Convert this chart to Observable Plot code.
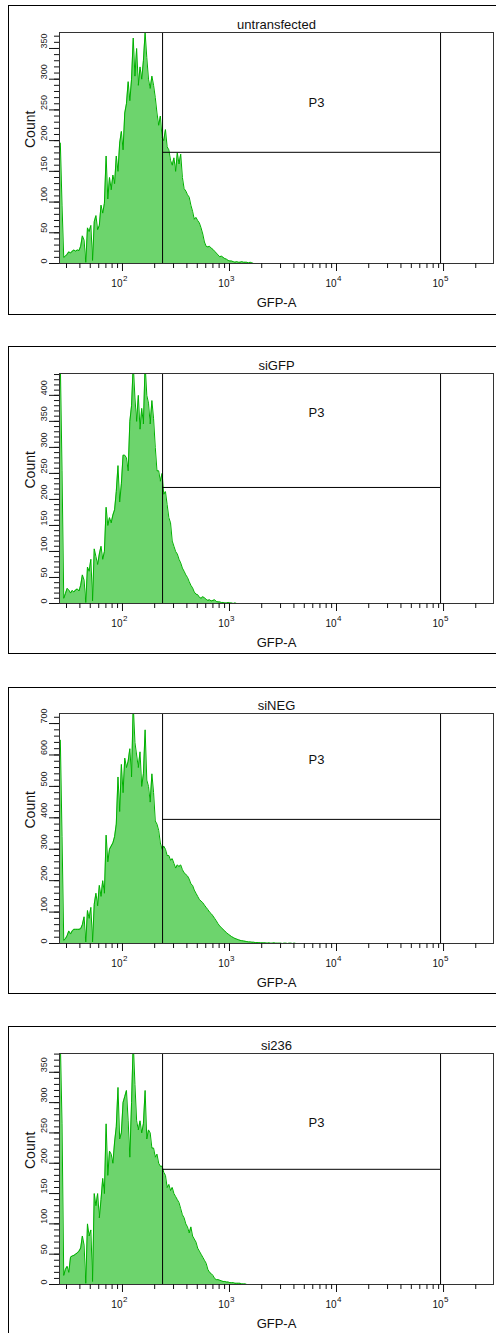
<!DOCTYPE html>
<html>
<head>
<meta charset="utf-8">
<script src="https://cdn.jsdelivr.net/npm/d3@7"></script>
<script src="https://cdn.jsdelivr.net/npm/@observablehq/plot@0.6"></script>
<style>
  html, body { margin: 0; padding: 0; background: #fff; }
  body { width: 496px; height: 1333px; overflow: hidden; position: relative; font-family: "Liberation Sans", Arial, sans-serif; }
  .panel { position: absolute; left: 0; width: 496px; }
  .box { position: absolute; left: 8px; top: 0; width: 600px; box-sizing: border-box; border: 1px solid #000; }
  .panel svg { position: absolute; left: 0; top: 0; }
</style>
</head>
<body>
<script>
// ---------- DATA ----------
const panelTitles = ["untransfected", "siGFP", "siNEG", "si236"];
const xAxisLabel = "GFP-A";
const yAxisLabel = "Count";
const gateName = "P3";

// histogram bins (256 log-spaced channels over the GFP-A range)
const gfpMin = 25.8;
const gfpMax = 293000;
const channelCount = 256;

// counts per channel, starting at the first channel
const untransfectedCounts = [
  196, 95, 10, 12, 15, 19, 17, 20, 22, 20,
  22, 21, 28, 45, 38, 2, 58, 52, 62, 5,
  68, 78, 55, 62, 95, 82, 98, 175, 105, 140,
  120, 144, 130, 175, 150, 196, 215, 185, 245, 260,
  296, 265, 300, 367, 305, 350, 290, 320, 300, 330,
  376, 335, 300, 285, 305, 290, 270, 245, 225, 240,
  205, 200, 218, 190, 185, 168, 160, 172, 150, 180,
  162, 178, 140, 122, 118, 112, 108, 95, 85, 72,
  75, 70, 66, 58, 48, 35, 28, 27, 28, 25,
  23, 20, 17, 14, 11, 12, 10, 8, 7, 5,
  4, 4, 3, 2, 3, 2, 2, 3, 2, 2,
  2, 1, 2, 1, 0
];
const siGFPCounts = [
  460, 255, 10, 19, 29, 26, 20, 25, 22, 26,
  28, 24, 35, 55, 45, 2, 70, 62, 85, 5,
  105, 90, 75, 95, 110, 85, 100, 185, 150, 165,
  155, 170, 180, 215, 265, 195, 230, 285, 285, 280,
  255, 350, 380, 460, 395, 350, 400, 335, 375, 345,
  460, 400, 385, 345, 390, 355, 300, 255, 255, 235,
  250, 210, 215, 190, 165, 155, 120, 110, 100, 95,
  85, 78, 68, 62, 55, 50, 42, 35, 30, 22,
  18, 17, 12, 10, 13, 11, 8, 6, 7, 5,
  6, 7, 4, 3, 3, 2, 2, 1, 1, 2,
  1, 1, 0, 1, 0
];
const siNEGCounts = [
  647, 340, 10, 15, 25, 40, 30, 40, 45, 45,
  45, 45, 47, 60, 85, 5, 105, 80, 115, 5,
  125, 160, 120, 185, 150, 200, 160, 345, 260, 300,
  310, 320, 340, 380, 530, 420, 570, 480, 590, 560,
  580, 620, 530, 760, 640, 600, 560, 610, 500, 540,
  680, 520, 500, 450, 540, 480, 390, 380, 360, 320,
  300, 310, 300, 280, 280, 265, 270, 255, 240, 250,
  245, 250, 235, 225, 220, 215, 205, 190, 185, 170,
  160, 150, 140, 135, 130, 122, 115, 108, 100, 95,
  88, 80, 72, 63, 56, 50, 45, 40, 34, 30,
  26, 22, 19, 16, 14, 12, 10, 9, 8, 7,
  6, 5, 5, 4, 4, 3, 3, 3, 2, 2,
  2, 2, 1, 2, 1, 1, 2, 1, 1, 1,
  1, 0, 1, 1, 0, 1, 1, 0, 1, 0
];
const si236Counts = [
  400, 265, 15, 25, 30, 20, 45, 47, 48, 50,
  52, 55, 60, 80, 65, 2, 100, 80, 90, 5,
  150, 130, 150, 110, 140, 175, 150, 265, 180, 220,
  215, 200, 235, 260, 325, 240, 250, 300, 310, 320,
  270, 210, 300, 400, 330, 270, 255, 270, 250, 265,
  320, 240, 255, 250, 225, 225, 210, 215, 200, 195,
  195, 185, 180, 160, 165, 155, 160, 150, 145, 140,
  135, 125, 115, 110, 100, 95, 85, 95, 80, 75,
  70, 60, 55, 50, 45, 40, 35, 25, 20, 18,
  15, 10, 8, 8, 7, 6, 5, 5, 4, 4,
  3, 3, 3, 2, 2, 2, 2, 1, 1, 1,
  0
];
const panelCounts = [untransfectedCounts, siGFPCounts, siNEGCounts, si236Counts];

// y-axis maxima of each panel
const yMaxima = [376, 442, 732, 381];
// labelled y ticks and minor tick step
const yMajorTicks = [
  [0, 50, 100, 150, 200, 250, 300, 350],
  [0, 50, 100, 150, 200, 250, 300, 350, 400],
  [0, 100, 200, 300, 400, 500, 600, 700],
  [0, 50, 100, 150, 200, 250, 300, 350]
];
const yMinorSteps = [10, 10, 20, 10];

// x ticks (decades labelled as 10 with exponent)
const xMajorTicks = [100, 1000, 10000, 100000];
const xMinorTicks = [30, 40, 50, 60, 70, 80, 90,
  200, 300, 400, 500, 600, 700, 800, 900,
  2000, 3000, 4000, 5000, 6000, 7000, 8000, 9000,
  20000, 30000, 40000, 50000, 60000, 70000, 80000, 90000,
  200000];

// P3 interval gate: GFP-A limits and drawn level (count) per panel
const gateLow = 237;
const gateHigh = 93800;
const gateLevels = [181, 223, 395, 190];
const gateLabelX = 6500;
const gateLabelY = [262, 367, 583, 266];

// ---------- LAYOUT (page geometry) ----------
const layout = [
  {top: 5,    h: 310, mt: 27, mb: 52},
  {top: 346,  h: 308, mt: 27, mb: 51},
  {top: 687,  h: 307, mt: 26, mb: 51},
  {top: 1026, h: 310, mt: 27, mb: 52}
];

const fillGreen = "#6dd46d";
const lineGreen = "#00b000";
const ink = "#111";

const logLo = Math.log10(gfpMin);
const logStep = (Math.log10(gfpMax) - logLo) / channelCount;
const toRows = counts => counts.map((c, i) => ({gfp: Math.pow(10, logLo + (i + 0.5) * logStep), count: c}));

panelTitles.forEach((title, p) => {
  const L = layout[p];
  const rows = toRows(panelCounts[p]);
  const ymax = yMaxima[p];
  const minors = d3.range(0, ymax + 0.001, yMinorSteps[p]);

  const wrap = document.createElement("div");
  wrap.className = "panel";
  wrap.style.top = L.top + "px";
  wrap.style.height = L.h + "px";
  const box = document.createElement("div");
  box.className = "box";
  box.style.height = L.h + "px";
  wrap.appendChild(box);

  const chart = Plot.plot({
    width: 496,
    height: L.h,
    marginLeft: 59,
    marginRight: 3,
    marginTop: L.mt,
    marginBottom: L.mb,
    style: {fontFamily: "'Liberation Sans', Arial, sans-serif", fontSize: "9px", color: ink, background: "transparent", overflow: "visible"},
    x: {type: "log", domain: [gfpMin, gfpMax], axis: null},
    y: {domain: [0, ymax], axis: null},
    marks: [
      Plot.areaY(rows, {x: "gfp", y: "count", fill: fillGreen, clip: true}),
      Plot.lineY(rows, {x: "gfp", y: "count", stroke: lineGreen, strokeWidth: 1, clip: true}),
      Plot.ruleX([gateLow, gateHigh], {stroke: "#000", strokeWidth: 1}),
      Plot.ruleY([gateLevels[p]], {x1: gateLow, x2: gateHigh, stroke: "#000", strokeWidth: 1}),
      Plot.frame({stroke: "#333", strokeWidth: 1}),
      Plot.axisX({ticks: xMinorTicks, tickSize: 5, tickFormat: () => "", label: null, stroke: ink}),
      Plot.axisX({ticks: xMajorTicks, tickSize: 8, tickFormat: () => "", label: null, stroke: ink}),
      Plot.text(xMajorTicks, {x: d => d, frameAnchor: "bottom", lineAnchor: "middle", textAnchor: "end", dy: 20, dx: 0, text: () => "10", fontSize: 10, fill: ink}),
      Plot.text(xMajorTicks, {x: d => d, frameAnchor: "bottom", lineAnchor: "middle", textAnchor: "start", dy: 15, dx: 0.5, text: d => String(Math.round(Math.log10(d))), fontSize: 8, fill: ink}),
      Plot.axisY({ticks: minors, tickSize: 5, tickFormat: () => "", label: null, stroke: ink}),
      Plot.axisY({ticks: yMajorTicks[p], tickSize: 10, tickFormat: () => "", label: null, stroke: ink}),
      Plot.text(yMajorTicks[p], {y: d => d, frameAnchor: "left", lineAnchor: "middle", dx: -15, rotate: -90, text: d => String(d), fontSize: 9, fill: "#222"}),
      Plot.text([yAxisLabel], {frameAnchor: "left", lineAnchor: "middle", dx: -29, rotate: -90, fontSize: 14, fill: ink}),
      Plot.text([xAxisLabel], {frameAnchor: "bottom", lineAnchor: "middle", dy: 39, fontSize: 13, fill: ink}),
      Plot.text([title], {frameAnchor: "top", lineAnchor: "middle", dy: -8, fontSize: 13, fill: ink}),
      Plot.text([gateName], {x: () => gateLabelX, y: () => gateLabelY[p], lineAnchor: "middle", fontSize: 13, fill: ink})
    ]
  });
  wrap.appendChild(chart);
  document.body.appendChild(wrap);
});
</script>
</body>
</html>
